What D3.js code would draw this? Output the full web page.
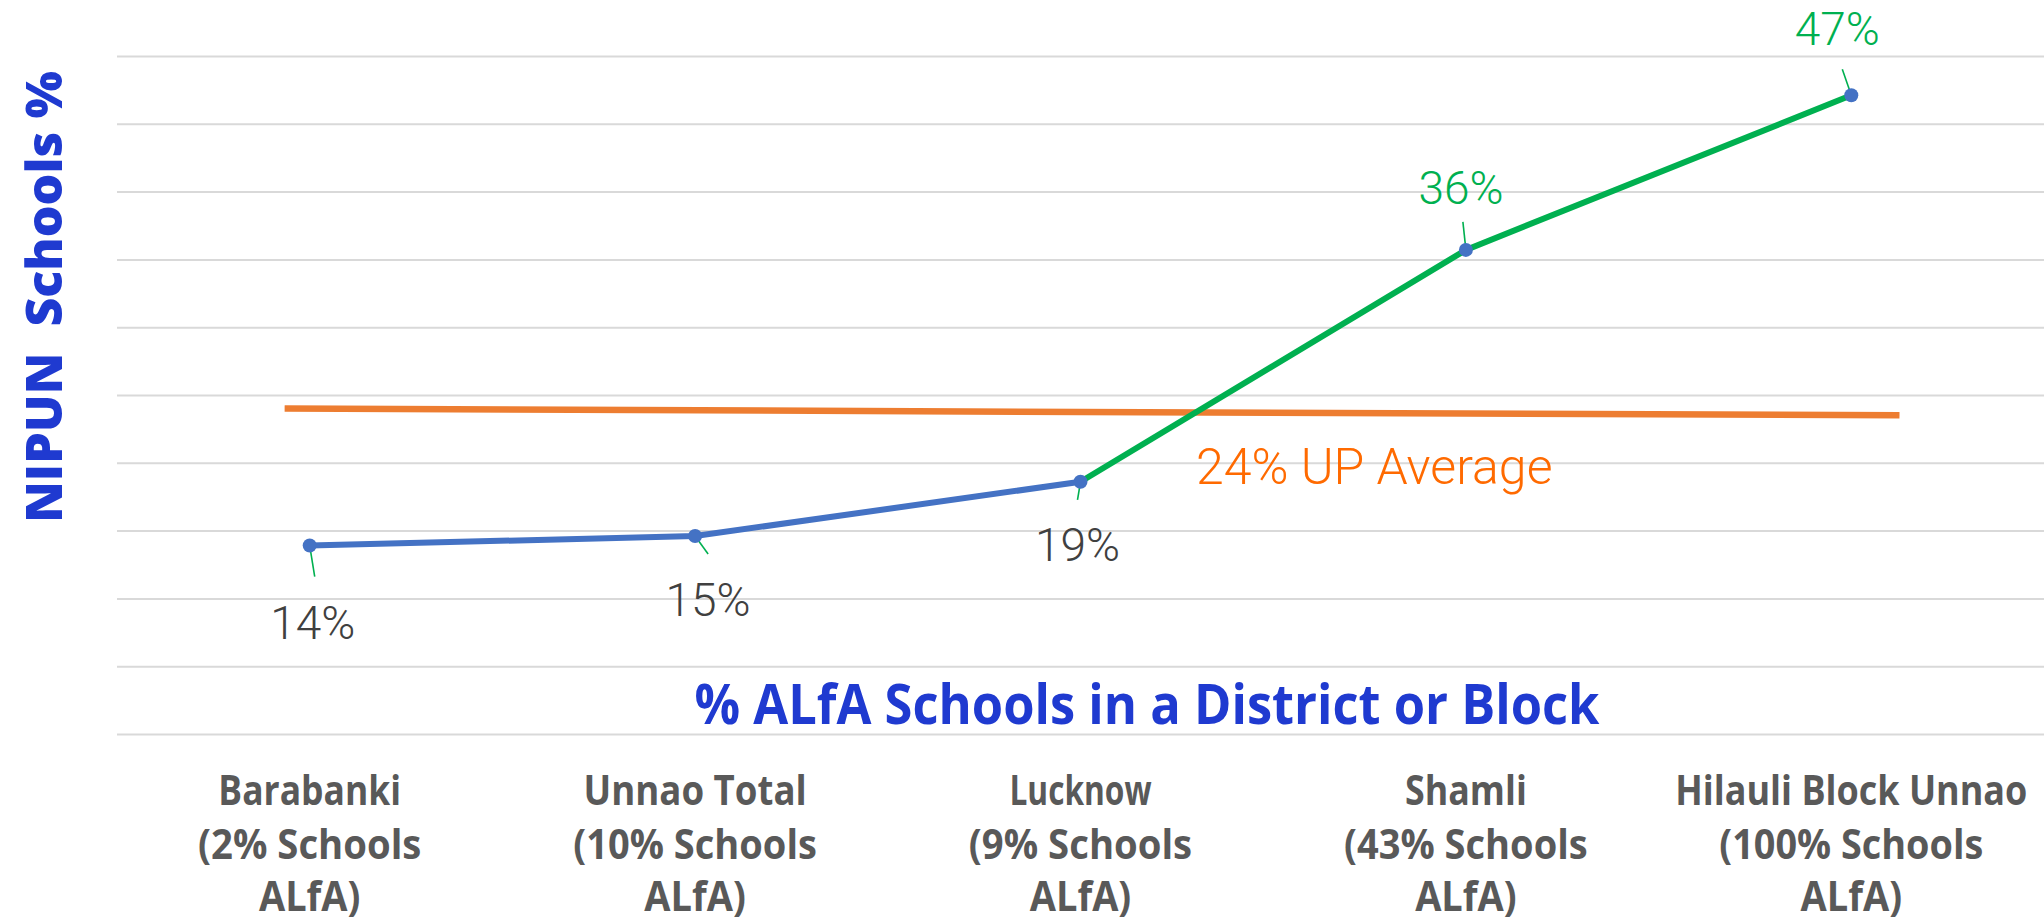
<!DOCTYPE html>
<html>
<head>
<meta charset="utf-8">
<script src="https://cdn.jsdelivr.net/npm/d3@7"></script>
<style>
  html, body { margin: 0; padding: 0; background: #fff; }
</style>
</head>
<body>
<div id="chart"></div>
<script>
// categories (two-line-wrapped labels below the plot)
const categories = ["Barabanki", "Unnao Total", "Lucknow", "Shamli", "Hilauli Block Unnao"];
const categoryNotes = ["(2% Schools", "(10% Schools", "(9% Schools", "(43% Schools", "(100% Schools"];
// NIPUN schools % per category
const nipunValues = [13.9, 14.6, 18.6, 35.7, 47.1];
const valueLabels = ["14%", "15%", "19%", "36%", "47%"];
// UP average reference line (start / end value)
const avgValues = [24.0, 23.5];
const avgLabel = "24% UP Average";
const yTicks = [0, 5, 10, 15, 20, 25, 30, 35, 40, 45, 50];

var width = 2044, height = 924;
var margin = { left: 117, right: 0, top: 56, bottom: 190 };

var svg = d3.select("#chart").append("svg")
    .attr("width", width)
    .attr("height", height);

var x = d3.scalePoint()
    .domain(categories)
    .range([margin.left, width - margin.right])
    .padding(0.5);

var y = d3.scaleLinear()
    .domain([0, 50])
    .range([height - margin.bottom, margin.top]);

// index scale, used for the avg line that runs a bit past the first/last point
var xi = d3.scaleLinear().domain([0, categories.length - 1])
    .range([x(categories[0]), x(categories[categories.length - 1])]);

// squeeze a text to a target width if the font renders it wider (no Calibri here)
function fitWidth(sel, w) {
    sel.each(function () {
        var len = this.getComputedTextLength();
        if (len > w) d3.select(this).attr("textLength", w).attr("lengthAdjust", "spacingAndGlyphs");
    });
}

// gridlines
svg.append("g")
    .call(d3.axisLeft(y).tickValues(yTicks).tickSize(-(width - margin.left - margin.right)).tickFormat(""))
    .attr("transform", "translate(" + margin.left + ",0)")
    .call(g => g.select(".domain").remove())
    .selectAll("line")
    .attr("stroke", "#d9d9d9")
    .attr("stroke-width", 2);

// orange average line
svg.append("line")
    .attr("x1", xi(-0.065)).attr("y1", y(avgValues[0]))
    .attr("x2", xi(4.125)).attr("y2", y(avgValues[1]))
    .attr("stroke", "#ED7D31")
    .attr("stroke-width", 6.5);

svg.append("text")
    .attr("x", xi(2.3))
    .attr("y", y(avgValues[1]) + 69)
    .attr("font-family", "Roboto, sans-serif")
    .attr("font-weight", 300)
    .attr("font-size", 50)
    .attr("fill", "#FF6A00")
    .text(avgLabel);

var pts = nipunValues.map((v, i) => ({ cat: categories[i], v: v, label: valueLabels[i], i: i }));

var line = d3.line().x(d => x(d.cat)).y(d => y(d.v));

// label nudges and leader ends, relative to each point (layout, not data)
var labelNudge = [[3, 77], [13, 64], [-3, 63], [-5, -62], [-14, -66]];
var leaderEnd = [[5, 31], [13, 18], [-3, 18], [-3, -28], [-9, -26]];

// leader lines
svg.selectAll(".leader")
    .data(pts).enter().append("line")
    .attr("class", "leader")
    .attr("x1", d => x(d.cat)).attr("y1", d => y(d.v))
    .attr("x2", d => x(d.cat) + leaderEnd[d.i][0])
    .attr("y2", d => y(d.v) + leaderEnd[d.i][1])
    .attr("stroke", "#00B050")
    .attr("stroke-width", 1.6);

// blue segment (first three points), green segment (last three)
svg.append("path")
    .datum(pts.slice(0, 3))
    .attr("d", line)
    .attr("fill", "none")
    .attr("stroke", "#4472C4")
    .attr("stroke-width", 6);

svg.append("path")
    .datum(pts.slice(2))
    .attr("d", line)
    .attr("fill", "none")
    .attr("stroke", "#00B050")
    .attr("stroke-width", 6);

svg.selectAll(".dot")
    .data(pts).enter().append("circle")
    .attr("class", "dot")
    .attr("cx", d => x(d.cat)).attr("cy", d => y(d.v))
    .attr("r", 7)
    .attr("fill", "#4472C4");

svg.selectAll(".vlabel")
    .data(pts).enter().append("text")
    .attr("class", "vlabel")
    .attr("x", d => x(d.cat) + labelNudge[d.i][0])
    .attr("y", d => y(d.v) + labelNudge[d.i][1])
    .attr("dy", "0.35em")
    .attr("text-anchor", "middle")
    .attr("font-family", "Roboto, sans-serif")
    .attr("font-weight", 300)
    .attr("font-size", 46)
    .attr("fill", d => d.i >= 3 ? "#00B050" : "#404040")
    .text(d => d.label);

// category labels, three lines each
var catG = svg.selectAll(".cat")
    .data(categories).enter().append("text")
    .attr("class", "cat")
    .attr("text-anchor", "middle")
    .attr("font-family", "'Open Sans', sans-serif")
    .attr("font-weight", "bold")
    .attr("font-size", 42)
    .attr("fill", "#595959");
catG.append("tspan").attr("x", d => x(d)).attr("y", 805).text(d => d);
catG.append("tspan").attr("x", d => x(d)).attr("y", 859).text((d, i) => categoryNotes[i]);
catG.append("tspan").attr("x", d => x(d)).attr("y", 911).text("ALfA)");
// target widths, roughly 19-20px per char
catG.selectAll("tspan").each(function () {
    var n = this.textContent.length;
    fitWidth(d3.select(this), Math.min(n * 20.3, 352));
});

// axis titles
svg.append("text")
    .attr("x", 1147)
    .attr("y", 704)
    .attr("dy", "0.35em")
    .attr("text-anchor", "middle")
    .attr("font-family", "'Open Sans', sans-serif")
    .attr("font-weight", "bold")
    .attr("font-size", 56)
    .attr("fill", "#1F3AD0")
    .text("% ALfA Schools in a District or Block")
    .call(fitWidth, 905);

svg.append("text")
    .attr("transform", "translate(44,297) rotate(-90)")
    .attr("dy", "0.35em")
    .attr("text-anchor", "middle")
    .attr("font-family", "'Open Sans', sans-serif")
    .attr("font-weight", 800)
    .attr("font-size", 50)
    .attr("fill", "#1F3AD0")
    .style("white-space", "pre")
    .text("NIPUN  Schools %");
</script>
</body>
</html>
